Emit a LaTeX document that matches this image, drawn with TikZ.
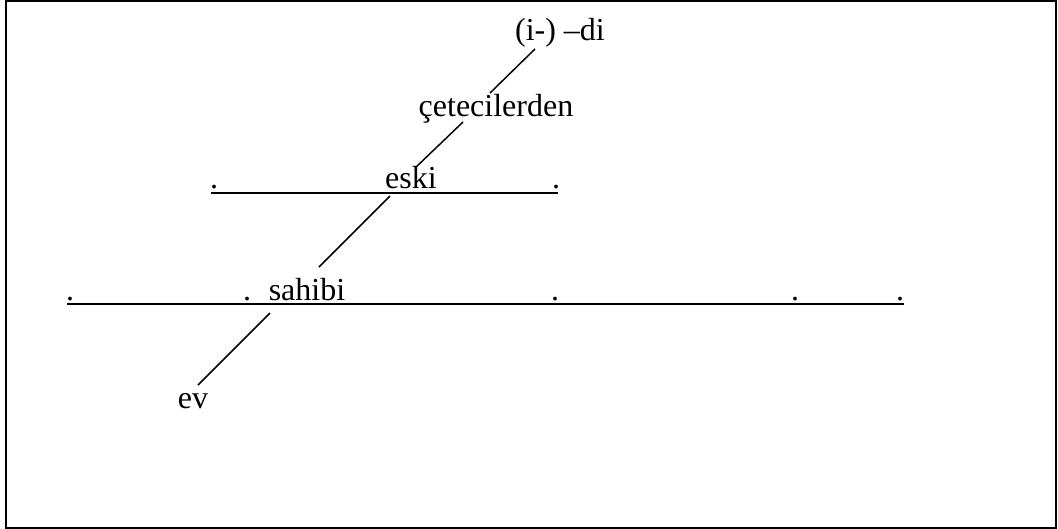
\documentclass[tikz,border=0pt]{standalone}
\usepackage{fontspec}
\setmainfont{Liberation Serif}
\begin{document}
\begin{tikzpicture}[x=0.75pt,y=-0.75pt,
  word/.style={inner sep=0pt,anchor=base,font=\fontsize{24}{28}\selectfont},
  baseline rule/.style={line width=1.7pt},
  slant/.style={line width=1.1pt},
  frame/.style={line width=1.4pt}]
\useasboundingbox (0,0) rectangle (1058,529);
\draw[frame] (6,1) rectangle (1056,528);
% words
\node[word] (di) at (560,40) {(i-) –di};
\node[word] (cet) at (496,116) {çetecilerden};
\node[word] (eski) at (411,188) {eski};
\node[word] (sahibi) at (307,300) {sahibi};
\node[word] (ev) at (193,408) {ev};
% dots
\node[word] (d1) at (214,188) {.};
\node[word] (d2) at (556,188) {.};
\node[word] (d3) at (70,300) {.};
\node[word] (d4) at (247,300) {.};
\node[word] (d5) at (555,300) {.};
\node[word] (d6) at (795,300) {.};
\node[word] (d7) at (900,300) {.};
% base lines
\coordinate (u1) at (211,193);
\coordinate (u2) at (558,193);
\coordinate (l1) at (67,304);
\coordinate (l2) at (904,304);
\draw[baseline rule] (u1) -- (u2);
\draw[baseline rule] (l1) -- (l2);
% slanted connectors
\coordinate (a1) at (535,49);
\coordinate (a2) at (490,93);
\coordinate (b1) at (463,122);
\coordinate (b2) at (415,168);
\coordinate (c1) at (390,196);
\coordinate (c2) at (319,267);
\coordinate (e1) at (270,313);
\coordinate (e2) at (198,385);
\draw[slant] (a1) -- (a2);
\draw[slant] (b1) -- (b2);
\draw[slant] (c1) -- (c2);
\draw[slant] (e1) -- (e2);
\end{tikzpicture}
\end{document}
